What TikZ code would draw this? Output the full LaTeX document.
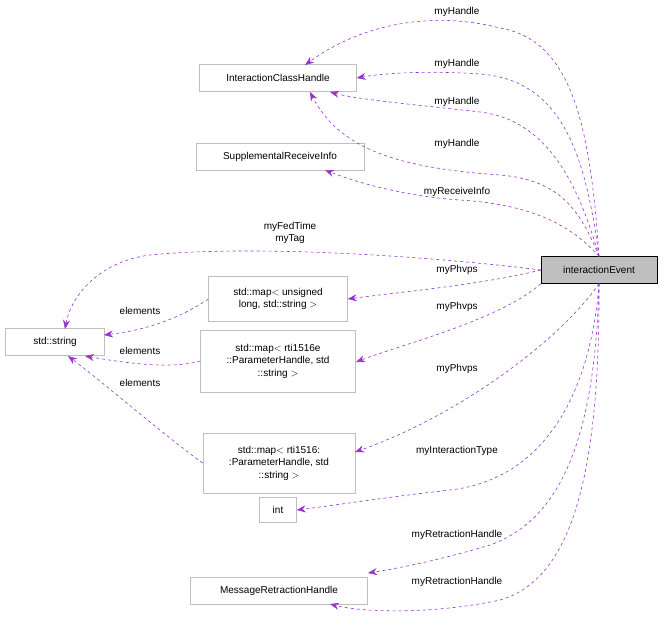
\documentclass[tikz,border=0pt]{standalone}
\usepackage{fontspec}
\setmainfont{Liberation Sans}
\usetikzlibrary{arrows.meta}
\definecolor{edgepurple}{HTML}{9A32CD}
\definecolor{boxgray}{HTML}{BFBFBF}
\begin{document}
\begin{tikzpicture}[x=1pt, y=-1pt,
    every node/.style={font=\fontsize{10}{12.5}\selectfont},
    cls/.style={draw=boxgray, fill=white, rectangle, inner sep=0pt, align=center},
    main/.style={draw=black, fill=boxgray, rectangle, inner sep=0pt},
    rel/.style={draw=edgepurple, dashed, semithick, -{Stealth[length=9pt, width=7pt]}},
    lbl/.style={fill=none, inner sep=1pt}]
    \useasboundingbox (0,0) rectangle (664,627);
    \node [main, minimum width=116pt, minimum height=27pt] (event) at (599,270) {interactionEvent};
    \node [cls, minimum width=157pt, minimum height=27pt] (ich) at (278,78) {InteractionClassHandle};
    \node [cls, minimum width=168pt, minimum height=27pt] (sri) at (280,157) {SupplementalReceiveInfo};
    \node [cls, minimum width=99pt, minimum height=27pt] (string) at (55,342) {std::string};
    \node [cls, minimum width=139pt, minimum height=45pt] (mapul) at (278,299) {std::map$<$ unsigned\\long, std::string $>$};
    \node [cls, minimum width=155pt, minimum height=62pt] (mape) at (278,361) {std::map$<$ rti1516e\\::ParameterHandle, std\\::string $>$};
    \node [cls, minimum width=152pt, minimum height=60pt] (mapr) at (279,463) {std::map$<$ rti1516:\\:ParameterHandle, std\\::string $>$};
    \node [cls, minimum width=37pt, minimum height=25pt] (int) at (278,510) {int};
    \node [cls, minimum width=177pt, minimum height=27pt] (mrh) at (279,591) {MessageRetractionHandle};
    % members
    \draw [rel] (event.north) .. controls (590,120) and (570,40) .. (500,28) .. controls (430,10) and (360,25) .. (305,65);
    \draw [rel] (event.north) .. controls (585,150) and (560,80) .. (480,74) .. controls (440,71) and (390,72) .. (ich.east);
    \draw [rel] (event.north) .. controls (580,190) and (550,120) .. (480,112) .. controls (420,105) and (360,100) .. (330,92);
    \draw [rel] (event.north) .. controls (580,210) and (560,180) .. (500,175) .. controls (400,168) and (340,150) .. (310,92);
    \draw [rel] (event.north) .. controls (575,230) and (540,205) .. (460,200) .. controls (400,196) and (350,180) .. (325,170);
    \draw [rel] (event.west) .. controls (420,255) and (250,245) .. (150,255) .. controls (95,262) and (70,300) .. (65,329);
    \draw [rel] (event.west) .. controls (480,285) and (400,292) .. (mapul.east);
    \draw [rel] (event.south west) .. controls (500,320) and (400,345) .. (356,362);
    \draw [rel] (event.south) .. controls (560,340) and (460,415) .. (355,452);
    \draw [rel] (event.south) .. controls (590,400) and (540,480) .. (450,490) .. controls (380,498) and (330,506) .. (int.east);
    \draw [rel] (event.south) .. controls (595,440) and (560,520) .. (490,545) .. controls (440,560) and (400,568) .. (368,573);
    \draw [rel] (event.south) .. controls (600,480) and (570,580) .. (500,600) .. controls (430,615) and (360,612) .. (330,604);
    % elements
    \draw [rel] (mapul.west) .. controls (170,325) and (130,332) .. (104,335);
    \draw [rel] (mape.west) .. controls (170,370) and (120,362) .. (85,356);
    \draw [rel] (mapr.west) .. controls (170,440) and (100,380) .. (68,356);
    % labels
    \node [lbl] (l1) at (457,12) {myHandle};
    \node [lbl] (l2) at (457,64) {myHandle};
    \node [lbl] (l3) at (457,102) {myHandle};
    \node [lbl] (l4) at (457,144) {myHandle};
    \node [lbl] (l5) at (457,192) {myReceiveInfo};
    \node [lbl, align=center] (l6) at (290,233) {myFedTime\\myTag};
    \node [lbl] (l7) at (457,270) {myPhvps};
    \node [lbl] (l8) at (457,307) {myPhvps};
    \node [lbl] (l9) at (457,369) {myPhvps};
    \node [lbl] (l10) at (457,451) {myInteractionType};
    \node [lbl] (l11) at (457,535) {myRetractionHandle};
    \node [lbl] (l12) at (457,582) {myRetractionHandle};
    \node [lbl] (l13) at (140,311) {elements};
    \node [lbl] (l14) at (140,351) {elements};
    \node [lbl] (l15) at (140,383) {elements};
\end{tikzpicture}
\end{document}
